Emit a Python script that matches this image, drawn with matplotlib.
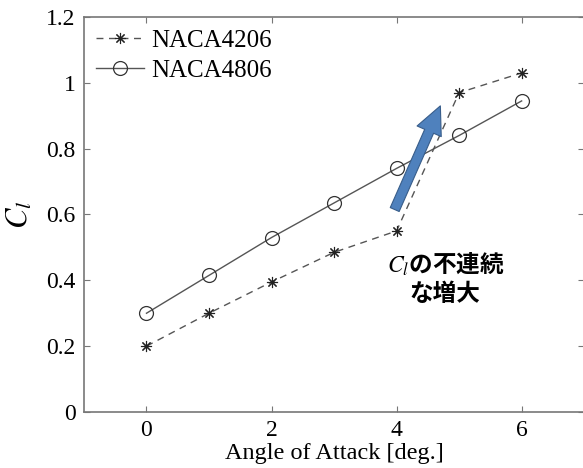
import matplotlib
matplotlib.use('Agg')
import matplotlib.pyplot as plt
import numpy as np
from matplotlib.patches import FancyArrowPatch
from matplotlib.ticker import FormatStrFormatter

plt.rcParams['font.family'] = ['Liberation Serif', 'DejaVu Serif']
plt.rcParams['mathtext.fontset'] = 'stix'

# angle of attack [deg.]
alpha = [0, 1, 2, 3, 4, 5, 6]
cl_4206 = [0.20, 0.30, 0.395, 0.485, 0.55, 0.97, 1.03]
cl_4806 = [0.30, 0.415, 0.53, 0.635, 0.74, 0.84, 0.945]
series_names = ['NACA4206', 'NACA4806']

# arrow marking the jump between 4 and 5 deg
jump_tail = (3.97, 0.615)
jump_tip = (4.70, 0.93)
note_text = '$C_l$の不連続\nな増大'
note_pos = (4.78, 0.49)

fig = plt.figure(figsize=(5.83, 4.68), dpi=100)
ax = fig.add_axes((0.144, 0.1197, 0.858, 0.844))

grey = '#555555'
ax.plot(alpha, cl_4206, linestyle=(0, (5, 4)), color=grey, lw=1.0,
        marker=(8, 2, 0), markersize=8, markeredgewidth=0.8,
        markeredgecolor='#222222', label=series_names[0])
ax.plot(alpha, cl_4806, linestyle='-', color=grey, lw=1.0,
        marker='o', markersize=10, markerfacecolor='none',
        markeredgewidth=0.9, markeredgecolor='#333333', label=series_names[1])

arr = FancyArrowPatch(jump_tail, jump_tip,
                      arrowstyle='simple,head_width=1.9,head_length=2.0,tail_width=0.7',
                      mutation_scale=10, shrinkA=0, shrinkB=0,
                      facecolor='#4f81bd', edgecolor='#385d8a', lw=0.8, zorder=4)
ax.add_patch(arr)

ax.text(note_pos[0], note_pos[1], note_text, ha='center', va='top',
        fontsize=17, fontweight='bold', linespacing=1.2,
        family=['Noto Sans CJK JP', 'DejaVu Sans'])

ax.set_xlim(-1, 7)
ax.set_ylim(0, 1.2)
ax.set_xticks([0, 2, 4, 6])
ax.set_yticks(np.arange(0, 1.21, 0.2))
ax.yaxis.set_major_formatter(FormatStrFormatter('%g'))
ax.tick_params(direction='in', length=4, width=0.8, color='#777777',
               labelsize=17, top=True, right=True, pad=6)
for s in ax.spines.values():
    s.set_color('#777777')
    s.set_linewidth(1.2)

ax.set_xlabel('Angle of Attack [deg.]', fontsize=17.5, labelpad=1)
ax.set_ylabel('$C_l$', fontsize=22, labelpad=8)

ax.legend(loc='upper left', frameon=False, fontsize=18, handlelength=1.9,
          handletextpad=0.3, labelspacing=0.3, borderaxespad=0.3,
          borderpad=0.2)

fig.savefig('out.png', dpi=100)
